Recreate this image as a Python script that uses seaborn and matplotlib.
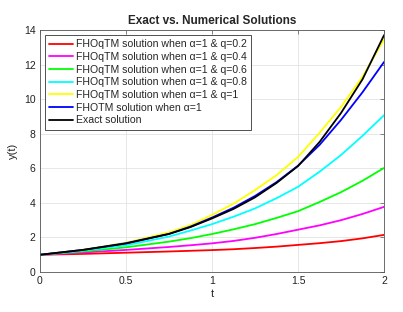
import pandas as pd
import seaborn as sns
import matplotlib.pyplot as plt

# values
t = [0, 0.25, 0.5, 0.75, 0.875, 1, 1.125, 1.25, 1.375, 1.5, 1.625, 1.75, 1.875, 2]
q02 = [1, 1.05, 1.12, 1.19, 1.23, 1.27, 1.32, 1.39, 1.47, 1.57, 1.67, 1.79, 1.95, 2.15]
q04 = [1, 1.13, 1.28, 1.45, 1.55, 1.66, 1.80, 1.98, 2.20, 2.45, 2.70, 3.00, 3.36, 3.77]
q06 = [1, 1.19, 1.43, 1.76, 1.96, 2.20, 2.47, 2.77, 3.13, 3.52, 4.05, 4.62, 5.28, 6.02]
q08 = [1, 1.24, 1.55, 2.05, 2.40, 2.77, 3.20, 3.68, 4.27, 4.93, 5.80, 6.77, 7.88, 9.07]
q10 = [1, 1.29, 1.70, 2.30, 2.72, 3.30, 3.95, 4.74, 5.60, 6.66, 8.05, 9.55, 11.30, 13.45]
fhotm = [1, 1.28, 1.67, 2.21, 2.63, 3.15, 3.72, 4.40, 5.20, 6.15, 7.35, 8.80, 10.40, 12.15]
exact = [1, 1.28, 1.65, 2.20, 2.60, 3.10, 3.65, 4.32, 5.15, 6.13, 7.52, 9.20, 11.15, 13.70]

labels = [
    'FHOqTM solution when α=1 & q=0.2',
    'FHOqTM solution when α=1 & q=0.4',
    'FHOqTM solution when α=1 & q=0.6',
    'FHOqTM solution when α=1 & q=0.8',
    'FHOqTM solution when α=1 & q=1',
    'FHOTM solution when α=1',
    'Exact solution',
]
colors = ['#ff0000', '#ff00ff', '#00ff00', '#00ffff', '#ffff00', '#0000ff', '#000000']
series = [q02, q04, q06, q08, q10, fhotm, exact]

sns.set_style('whitegrid')
plt.rcParams['font.family'] = ['Liberation Sans', 'DejaVu Sans']

fig = plt.figure(figsize=(4.03, 3.12), dpi=100)
ax = fig.add_axes([0.099, 0.128, 0.854, 0.776])

for vals, lab, c in zip(series, labels, colors):
    df = pd.DataFrame({'t': t, 'y': vals})
    sns.lineplot(data=df, x='t', y='y', color=c, label=lab, lw=1.3, ax=ax)

ax.set_xlim(0, 2)
ax.set_ylim(0, 14)
ax.set_xticks([0, 0.5, 1, 1.5, 2])
ax.set_xticklabels(['0', '0.5', '1', '1.5', '2'])
ax.set_yticks(range(0, 15, 2))
ax.grid(True, color='#e3e3e3', lw=0.6)
for s in ax.spines.values():
    s.set_color('#555555')
    s.set_linewidth(0.6)
ax.tick_params(direction='in', length=3, width=0.5, colors='#555555',
               labelcolor='#222222', labelsize=7.5, top=True, right=True, pad=3)

ax.set_xlabel('t', fontsize=8, labelpad=2)
ax.set_ylabel('y(t)', fontsize=8, labelpad=4)
ax.set_title('Exact vs. Numerical Solutions', fontsize=8.5, fontweight='bold', pad=4)

leg = ax.legend(loc='upper left', fontsize=7.6, frameon=True, fancybox=False,
                edgecolor='#333333', framealpha=1, handlelength=2.2,
                labelspacing=0.25, borderpad=0.4, handletextpad=0.3,
                borderaxespad=0.5)
leg.get_frame().set_linewidth(0.6)

plt.savefig('out.png', dpi=100)
plt.close()
